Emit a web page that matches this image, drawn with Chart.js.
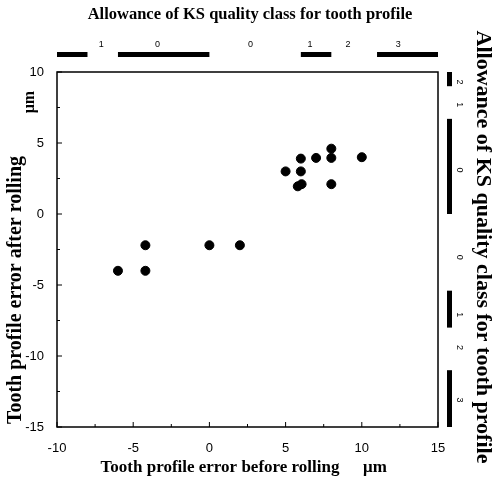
<!DOCTYPE html>
<html lang="en">
<head>
    <meta charset="UTF-8">
    <title>Tooth profile error before / after rolling</title>
    <style>
        html, body { margin: 0; padding: 0; background: #fff; }
        #wrap { width: 496px; height: 485px; }
    </style>
</head>
<body>

    <div id="wrap">
        <canvas id="myChart" width="496" height="485"></canvas>
    </div>

    <script src="https://cdn.jsdelivr.net/npm/chart.js@4.4.1/dist/chart.umd.min.js"></script>
    <script>
        // measured points (um)
        var beforeRolling = [-6, -4.2, -4.2, 0, 2, 5, 6, 6, 5.8, 6.05, 7, 8, 8, 8, 10];
        var afterRolling  = [-4, -4, -2.2, -2.2, -2.2, 3, 3.9, 3, 1.95, 2.1, 3.95, 4.6, 3.95, 2.1, 4];

        // KS quality class bands, alternating black / blank
        var topBands    = [-10, -8, -6, 0, 6, 8, 11, 15];
        var topLabels   = ['1', '0', '0', '1', '2', '3'];
        var topLabelAt  = [-7.1, -3.4, 2.7, 6.6, 9.1, 12.4];

        var rightBands   = [10, 9, 6.7, 0, -5.4, -8, -11, -15];
        var rightLabels  = ['2', '1', '0', '0', '1', '2', '3'];
        var rightLabelAt = [9.3, 7.7, 3.1, -3.05, -7.1, -9.4, -13.1];

        var xTicks = [-10, -5, 0, 5, 10, 15];
        var yTicks = [-15, -10, -5, 0, 5, 10];

        var points = [];
        for (var i = 0; i < beforeRolling.length; i++) {
            points.push({ x: beforeRolling[i], y: afterRolling[i] });
        }

        var serif = '"Liberation Serif", "DejaVu Serif", serif';
        var tickFont = { family: '"Liberation Sans Narrow", "Liberation Sans", Arial, sans-serif', size: 13 };

        var decorations = {
            id: 'decorations',
            afterDraw: function (chart) {
                var ctx = chart.ctx;
                var a = chart.chartArea;
                var xs = chart.scales.x;
                var ys = chart.scales.y;

                ctx.save();
                ctx.strokeStyle = '#000';
                ctx.fillStyle = '#000';

                // frame
                ctx.lineWidth = 1.5;
                ctx.strokeRect(a.left, a.top, a.right - a.left, a.bottom - a.top);

                // inward ticks, major + minor
                ctx.lineWidth = 1;
                ctx.beginPath();
                xTicks.forEach(function (v, k) {
                    var px = xs.getPixelForValue(v);
                    ctx.moveTo(px, a.bottom);
                    ctx.lineTo(px, a.bottom - 5);
                    if (k < xTicks.length - 1) {
                        var mx = xs.getPixelForValue((v + xTicks[k + 1]) / 2);
                        ctx.moveTo(mx, a.bottom);
                        ctx.lineTo(mx, a.bottom - 3);
                    }
                });
                yTicks.forEach(function (v, k) {
                    var py = ys.getPixelForValue(v);
                    ctx.moveTo(a.left, py);
                    ctx.lineTo(a.left + 5, py);
                    if (k < yTicks.length - 1) {
                        var my = ys.getPixelForValue((v + yTicks[k + 1]) / 2);
                        ctx.moveTo(a.left, my);
                        ctx.lineTo(a.left + 3, my);
                    }
                });
                ctx.stroke();

                // top class bar
                ctx.font = '9px "Liberation Sans", Arial, sans-serif';
                ctx.textAlign = 'center';
                ctx.textBaseline = 'middle';
                for (var k = 0; k < topBands.length - 1; k += 2) {
                    var x0 = xs.getPixelForValue(topBands[k]);
                    var x1 = xs.getPixelForValue(topBands[k + 1]);
                    ctx.fillRect(x0, 52, x1 - x0, 5);
                }
                topLabels.forEach(function (t, k) {
                    ctx.fillText(t, xs.getPixelForValue(topLabelAt[k]), 45);
                });

                // right class bar
                for (var k = 0; k < rightBands.length - 1; k += 2) {
                    var y0 = ys.getPixelForValue(rightBands[k]);
                    var y1 = ys.getPixelForValue(rightBands[k + 1]);
                    ctx.fillRect(447, y0, 5, y1 - y0);
                }
                rightLabels.forEach(function (t, k) {
                    ctx.save();
                    ctx.translate(459, ys.getPixelForValue(rightLabelAt[k]));
                    ctx.rotate(Math.PI / 2);
                    ctx.fillText(t, 0, 0);
                    ctx.restore();
                });

                // titles
                ctx.font = 'bold 16.5px ' + serif;
                ctx.fillText('Allowance of KS quality class for tooth profile', 250, 15);

                ctx.font = 'bold 17px ' + serif;
                ctx.fillText('Tooth profile error before rolling', 220, 468);
                ctx.fillText('\u03bcm', 375, 468);

                ctx.save();
                ctx.translate(16, 0);
                ctx.rotate(-Math.PI / 2);
                ctx.font = 'bold 20px ' + serif;
                ctx.fillText('Tooth profile error after rolling', -290, 0);
                ctx.font = 'bold 16px ' + serif;
                ctx.fillText('\u03bcm', -102, 14);
                ctx.restore();

                ctx.save();
                ctx.translate(483, 247);
                ctx.rotate(Math.PI / 2);
                ctx.font = 'bold 22px ' + serif;
                ctx.fillText('Allowance of KS quality class for tooth profile', 0, 0);
                ctx.restore();

                ctx.restore();
            }
        };

        var ctx = document.getElementById('myChart').getContext('2d');
        var myChart = new Chart(ctx, {
            type: 'scatter',
            data: {
                datasets: [{
                    data: points,
                    backgroundColor: '#000',
                    borderColor: '#000',
                    pointRadius: 4.5,
                    pointHoverRadius: 4.5
                }]
            },
            options: {
                responsive: false,
                animation: false,
                layout: { padding: { left: 0, top: 72, right: 58, bottom: 0 } },
                plugins: {
                    legend: { display: false },
                    tooltip: { enabled: false }
                },
                scales: {
                    x: {
                        type: 'linear',
                        min: -10,
                        max: 15,
                        afterBuildTicks: function (scale) {
                            scale.ticks = xTicks.map(function (v) { return { value: v }; });
                        },
                        afterFit: function (scale) { scale.height = 58; },
                        grid: { display: false },
                        border: { display: false },
                        ticks: { color: '#000', font: tickFont, padding: 6, maxRotation: 0 }
                    },
                    y: {
                        type: 'linear',
                        min: -15,
                        max: 10,
                        afterBuildTicks: function (scale) {
                            scale.ticks = yTicks.map(function (v) { return { value: v }; });
                        },
                        afterFit: function (scale) { scale.width = 57; },
                        grid: { display: false },
                        border: { display: false },
                        ticks: { color: '#000', font: tickFont, padding: 5 }
                    }
                }
            },
            plugins: [decorations]
        });
    </script>

</body>
</html>
